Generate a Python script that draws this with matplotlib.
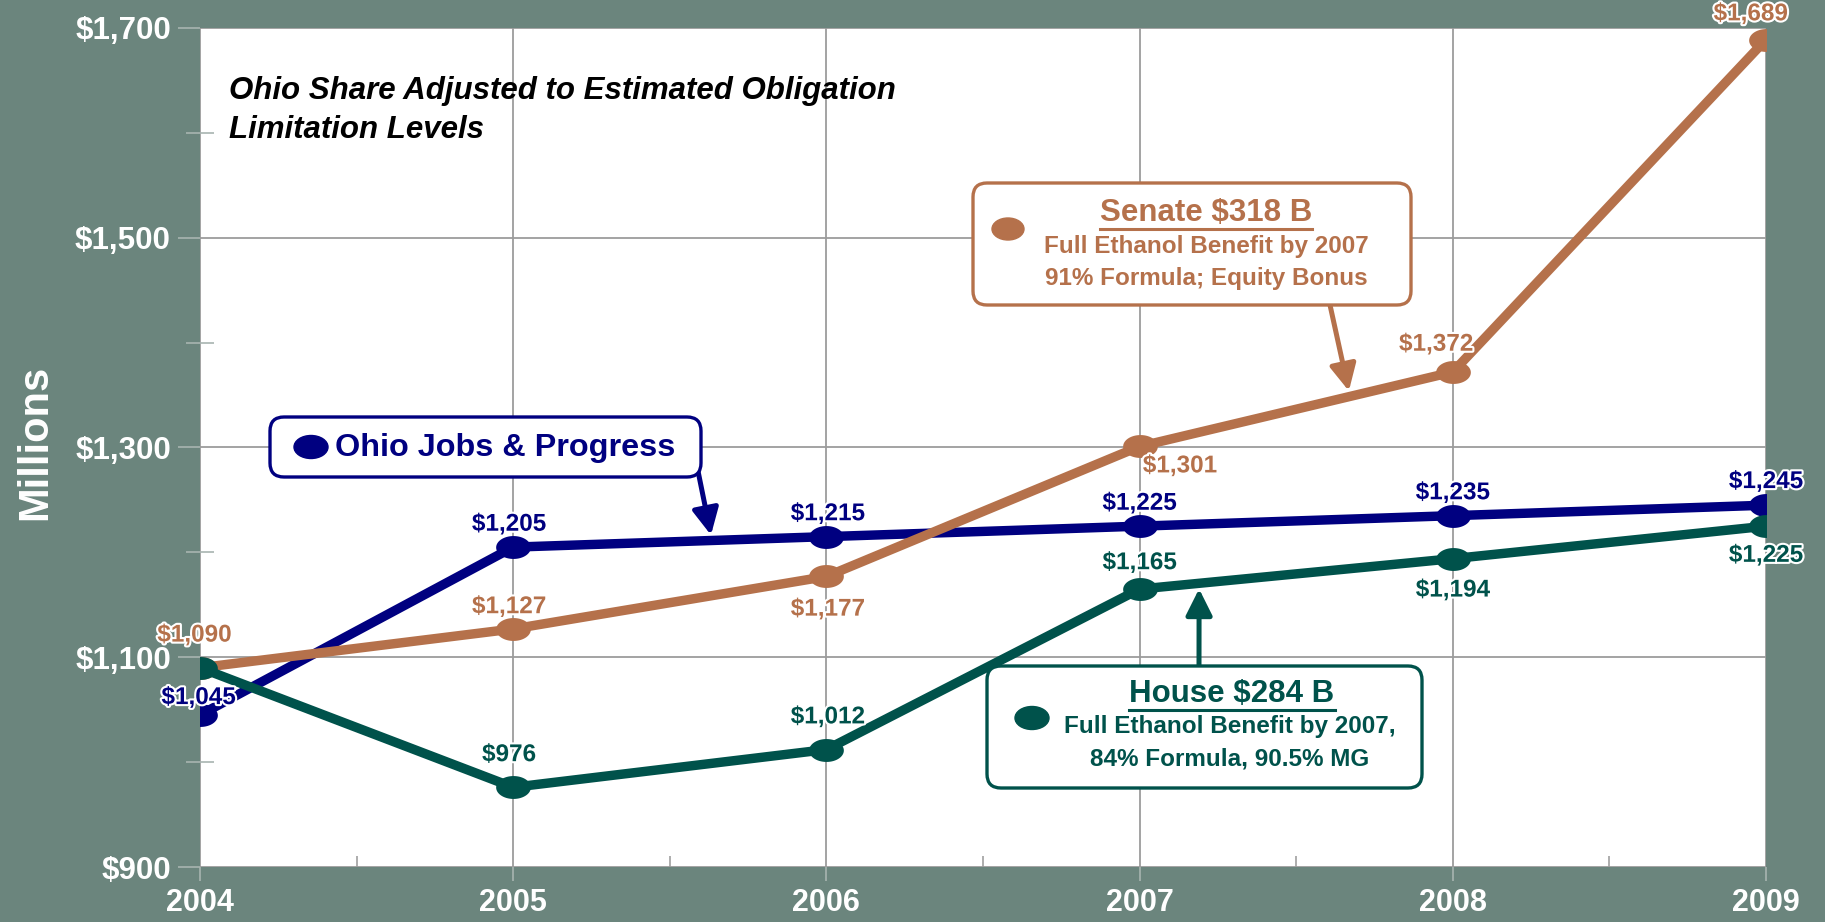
import numpy as np
import matplotlib
matplotlib.use('Agg')
import matplotlib.pyplot as plt
from matplotlib.path import Path
from matplotlib.patches import FancyBboxPatch, Ellipse
from matplotlib.lines import Line2D
from matplotlib.transforms import IdentityTransform
import matplotlib.patheffects as pe

# ---------------- data ----------------
years = [2004, 2005, 2006, 2007, 2008, 2009]
year_labels = ['2004', '2005', '2006', '2007', '2008', '2009']
ohio_jobs = [1045, 1205, 1215, 1225, 1235, 1245]
senate = [1090, 1127, 1177, 1301, 1372, 1689]
house = [1090, 976, 1012, 1165, 1194, 1225]
y_ticks = [900, 1100, 1300, 1500, 1700]
y_tick_labels = ['$900', '$1,100', '$1,300', '$1,500', '$1,700']
y_minor = [1000, 1200, 1400, 1600]
x_minor = [2004.5, 2005.5, 2006.5, 2007.5, 2008.5]

BG = '#6B857D'
BLUE = '#000080'
ORANGE = '#B5714B'
GREEN = '#00524B'
FONT = 'Liberation Sans'
plt.rcParams['font.family'] = [FONT, 'DejaVu Sans']

W, H = 1825, 922
fig = plt.figure(figsize=(W / 100, H / 100), dpi=100, facecolor=BG)
ax = fig.add_axes([200 / W, 1 - 867 / H, 1566 / W, 839 / H])
ax.set_facecolor('white')
ax.set_xlim(2004, 2009)
ax.set_ylim(900, 1700)
for s in ax.spines.values():
    s.set_visible(False)

ax.set_xticks(years)
ax.set_xticklabels(year_labels)
ax.set_xticks(x_minor, minor=True)
ax.set_yticks(y_ticks)
ax.set_yticklabels(y_tick_labels)
ax.set_yticks(y_minor, minor=True)
ax.tick_params(axis='x', which='major', direction='out', length=10, width=1.2,
               color='#a8b4b0', pad=5, labelsize=22, labelcolor='white')
ax.tick_params(axis='x', which='minor', direction='in', length=8, width=1.2, color='#a0a0a0')
ax.tick_params(axis='y', which='major', direction='out', length=16, width=1.2,
               color='#a8b4b0', pad=5, labelsize=22.5, labelcolor='white')
ax.tick_params(axis='y', which='minor', direction='inout', length=20, width=1.2, color='#a8b4b0')
for lbl in ax.get_xticklabels() + ax.get_yticklabels():
    lbl.set_fontweight('bold')
ax.grid(True, which='major', color='#9c9c9c', lw=1.3)
ax.set_axisbelow(True)

# ellipse marker
t = np.linspace(0, 2 * np.pi, 61)
ell = Path(np.column_stack([np.cos(t), 0.66 * np.sin(t)]), closed=True)

for series, col, z in [(ohio_jobs, BLUE, 3), (senate, ORANGE, 4), (house, GREEN, 5)]:
    ax.plot(years, series, color=col, lw=6.8, marker=ell, markersize=25, mew=0,
            zorder=z, solid_capstyle='round')

stroke = [pe.withStroke(linewidth=3, foreground='white')]


def lab(x, y, col, dx, dy):
    ax.annotate('\\$' + f'{y:,}', (x, y), xytext=(dx, dy), textcoords='offset points',
                ha='center', va='center', color=col, fontsize=17.5, fontweight='bold',
                path_effects=stroke, zorder=10, annotation_clip=False)


blue_off = [(-1, 12.5), (-3, 16.5), (1, 16.5), (0, 16.5), (0, 16.5), (0, 17)]
orange_off = [(-4, 23.5), (-3, 16), (1, -23.5), (29, -14), (-12, 20), (-11, 18.5)]
green_off = [None, (-3, 23.5), (1, 23.5), (0, 19), (0, -22.6), (0, -21)]
for i, x in enumerate(years):
    lab(x, ohio_jobs[i], BLUE, *blue_off[i])
    lab(x, senate[i], ORANGE, *orange_off[i])
    if green_off[i] is not None:
        lab(x, house[i], GREEN, *green_off[i])

# ---------------- annotations ----------------
def fx(x):
    return x / W


def fy(y):
    return 1 - y / H


fig.text(fx(229), fy(91), 'Ohio Share Adjusted to Estimated Obligation', fontsize=22.5,
         fontweight='bold', fontstyle='italic', color='black', ha='left', va='center')
fig.text(fx(229), fy(130), 'Limitation Levels', fontsize=22.5,
         fontweight='bold', fontstyle='italic', color='black', ha='left', va='center')

fig.text(fx(35), fy(442), 'Millions', rotation=90, fontsize=30, fontweight='bold',
         color='white', ha='center', va='center')


def box(x0, y0, x1, y1, col):
    p = FancyBboxPatch((x0, H - y1), x1 - x0, y1 - y0,
                       boxstyle='round,pad=0,rounding_size=14',
                       transform=IdentityTransform(), facecolor='white',
                       edgecolor=col, lw=2.4, zorder=20)
    fig.add_artist(p)


def dot(x, y, col, w=34, h=23):
    e = Ellipse((x, H - y), w, h, transform=IdentityTransform(), color=col, zorder=21)
    fig.add_artist(e)


def arrow(x0, y0, xd, series, col):
    yd = np.interp(xd, years, series)
    ax.annotate('', xy=(xd, yd), xycoords='data', xytext=(fx(x0), fy(y0)),
                textcoords='figure fraction',
                arrowprops=dict(arrowstyle='-|>,head_length=1.0,head_width=0.5',
                                mutation_scale=16, lw=3.6, color=col,
                                shrinkA=0, shrinkB=4),
                zorder=19)


# Ohio Jobs & Progress box
arrow(698, 471, 2005.635, ohio_jobs, BLUE)
box(270, 417, 701, 477, BLUE)
dot(311, 447, BLUE)
fig.text(fx(335), fy(448), 'Ohio Jobs & Progress', fontsize=23.3, fontweight='bold',
         color=BLUE, ha='left', va='center', zorder=22)

# Senate box
arrow(1330, 305, 2007.672, senate, ORANGE)
box(973, 183, 1411, 305, ORANGE)
dot(1008, 229, ORANGE, 32, 22)
t_sen = fig.text(fx(1206), fy(213), 'Senate \\$318 B', fontsize=22.5, fontweight='bold',
                 color=ORANGE, ha='center', va='center', zorder=22)
fig.text(fx(1206), fy(247), 'Full Ethanol Benefit by 2007', fontsize=17.5,
         fontweight='bold', color=ORANGE, ha='center', va='center', zorder=22)
fig.text(fx(1206), fy(279), '91% Formula; Equity Bonus', fontsize=17.5,
         fontweight='bold', color=ORANGE, ha='center', va='center', zorder=22)

# House box
arrow(1199, 666, 2007.19, house, GREEN)
box(987, 666, 1422, 788, GREEN)
dot(1032, 718, GREEN)
t_house = fig.text(fx(1232), fy(694), 'House \\$284 B', fontsize=22.5, fontweight='bold',
                   color=GREEN, ha='center', va='center', zorder=22)
fig.text(fx(1230), fy(726), 'Full Ethanol Benefit by 2007,', fontsize=17.5,
         fontweight='bold', color=GREEN, ha='center', va='center', zorder=22)
fig.text(fx(1230), fy(759), '84% Formula, 90.5% MG', fontsize=17.5,
         fontweight='bold', color=GREEN, ha='center', va='center', zorder=22)

# underline titles
fig.canvas.draw()
r = fig.canvas.get_renderer()
for tt, col in [(t_sen, ORANGE), (t_house, GREEN)]:
    bb = tt.get_window_extent(r)
    yline = bb.y0 - 1
    fig.add_artist(Line2D([bb.x0, bb.x1], [yline, yline], transform=IdentityTransform(),
                          color=col, lw=2.2, zorder=22))

fig.savefig('out.png', dpi=100, facecolor=BG)
